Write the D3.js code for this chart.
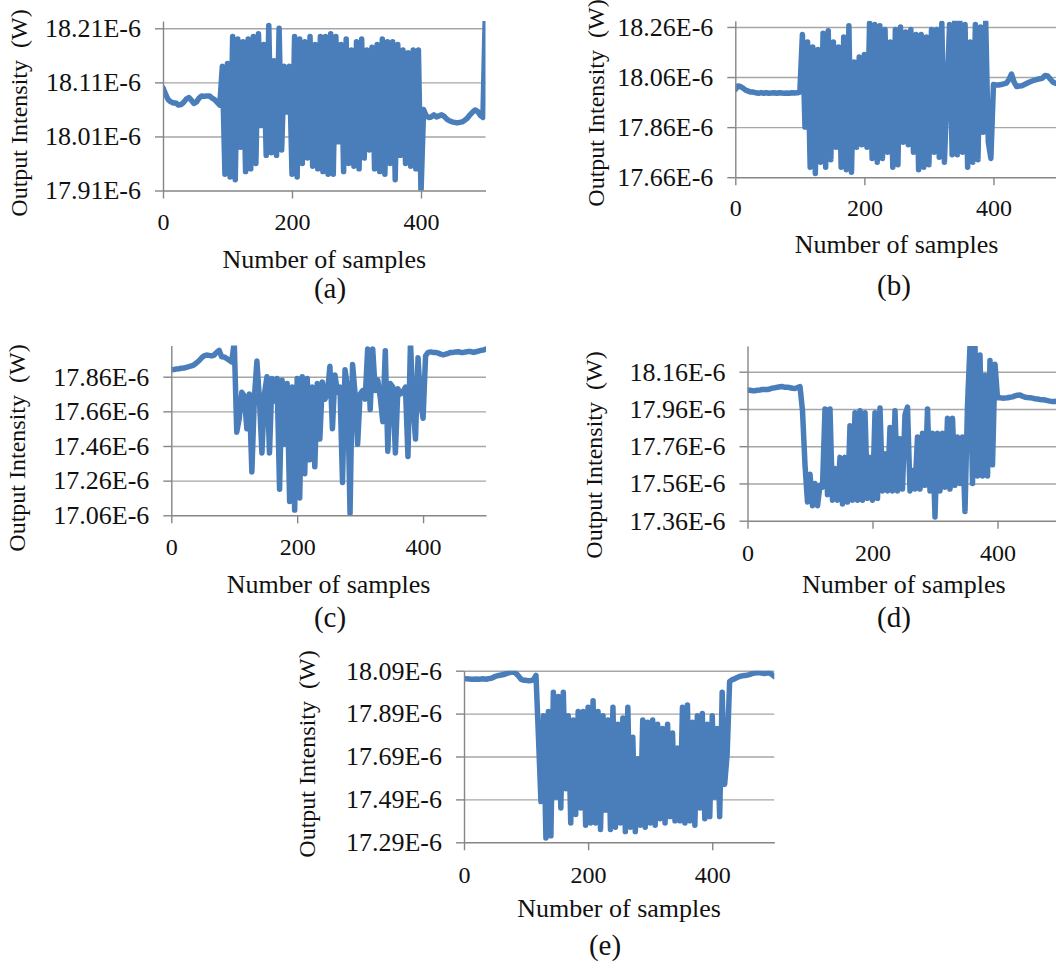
<!DOCTYPE html>
<html>
<head>
<meta charset="utf-8">
<script src="https://cdn.jsdelivr.net/npm/d3@7"></script>
<style>
  body { margin: 0; background: #fff; }
  svg { display: block; }
  svg text { font-family: "Liberation Serif", "Times New Roman", Times, serif; }
</style>
</head>
<body>
<svg id="chart" width="1056" height="971"></svg>
<script>
// ---------------- DATA ----------------
const sampleNumbers = [
  0,4,8,12,16,20,24,28,32,36,
  40,44,48,52,56,60,64,68,72,76,
  80,84,88,92,96,100,104,108,112,116,
  120,124,128,132,136,140,144,148,152,156,
  160,164,168,172,176,180,184,188,192,196,
  200,204,208,212,216,220,224,228,232,236,
  240,244,248,252,256,260,264,268,272,276,
  280,284,288,292,296,300,304,308,312,316,
  320,324,328,332,336,340,344,348,352,356,
  360,364,368,372,376,380,384,388,392,396,
  400,404,408,412,416,420,424,428,432,436,
  440,444,448,452,456,460,464,468,472,476,
  480,484,488,492,496,500];

const xTickValues = [0, 200, 400];
const xTickLabels = ["0", "200", "400"];
const panelLabels = ["(a)", "(b)", "(c)", "(d)", "(e)"];
const xAxisTitle = "Number of samples";
const yAxisTitle = "Output Intensity  (W)";

// y tick values (units of 1E-6 W)
const yTicksA = [17.91, 18.01, 18.11, 18.21];
const yTicksB = [17.66, 17.86, 18.06, 18.26];
const yTicksC = [17.06, 17.26, 17.46, 17.66, 17.86];
const yTicksD = [17.36, 17.56, 17.76, 17.96, 18.16];
const yTicksE = [17.29, 17.49, 17.69, 17.89, 18.09];

// output intensity (x 1E-6 W) at each entry of sampleNumbers
const intensityA = [
  18.100,18.088,18.078,18.074,18.072,18.072,18.068,18.069,18.073,18.079,
  18.082,18.077,18.071,18.074,18.081,18.085,18.084,18.085,18.085,18.081,
  18.078,18.073,18.068,18.140,17.940,18.145,17.935,18.195,17.930,18.190,
  17.990,18.185,17.945,18.190,17.950,18.195,17.960,18.200,18.030,18.180,
  17.975,18.215,17.980,18.150,17.975,18.210,17.985,18.140,18.055,18.140,
  17.940,18.195,17.935,18.190,17.960,18.185,17.970,18.195,17.955,18.180,
  17.950,18.195,17.945,18.195,17.940,18.200,17.940,18.195,18.000,18.180,
  17.945,18.190,17.960,18.170,17.955,18.185,17.950,18.190,17.970,18.170,
  17.985,18.175,17.950,18.180,17.945,18.190,17.940,18.185,17.960,18.185,
  17.930,18.180,17.975,18.170,17.960,18.165,17.955,18.170,17.950,18.170,
  17.905,18.060,18.048,18.045,18.046,18.050,18.046,18.048,18.050,18.047,
  18.042,18.039,18.037,18.036,18.035,18.036,18.037,18.040,18.044,18.050,
  18.055,18.059,18.056,18.049,18.045,18.250];

const intensityB = [
  18.010,18.024,18.022,18.016,18.008,18.004,18.000,18.000,17.997,17.995,
  17.998,17.995,17.997,17.995,17.996,17.997,17.995,17.997,17.996,17.995,
  17.996,17.995,17.997,17.996,17.997,18.000,18.230,17.860,18.200,17.700,
  18.180,17.675,18.170,17.720,18.235,17.700,18.245,17.730,18.200,17.780,
  18.180,17.700,18.220,17.690,18.265,17.680,18.120,17.780,18.140,17.790,
  18.150,17.780,18.275,17.735,18.270,17.720,18.265,17.735,18.250,17.760,
  18.200,17.700,18.250,17.710,18.260,17.800,18.240,17.790,18.250,17.760,
  18.230,17.690,18.230,17.700,18.220,17.710,18.250,17.760,18.250,17.740,
  18.275,17.720,18.000,18.270,17.750,18.280,17.750,18.280,17.760,18.270,
  17.700,18.200,17.720,18.270,17.730,18.260,17.840,18.280,17.800,17.735,
  18.030,18.028,18.028,18.030,18.033,18.036,18.050,18.072,18.040,18.022,
  18.024,18.025,18.030,18.035,18.040,18.044,18.048,18.051,18.053,18.056,
  18.066,18.064,18.052,18.040,18.035,18.035];

const intensityC = [
  17.900,17.901,17.904,17.906,17.909,17.910,17.914,17.918,17.922,17.928,
  17.940,17.952,17.968,17.980,17.985,17.983,17.980,17.985,18.000,18.012,
  17.975,17.974,17.965,17.955,17.945,18.060,17.540,17.620,17.770,17.750,
  17.560,17.760,17.310,17.740,17.950,17.730,17.420,17.760,17.860,17.420,
  17.850,17.720,17.850,17.210,17.840,17.470,17.820,17.140,17.800,17.090,
  17.850,17.160,17.860,17.300,17.850,17.380,17.800,17.340,17.820,17.500,
  17.830,17.730,17.760,17.920,17.560,17.870,17.770,17.800,17.250,17.900,
  17.800,17.070,17.930,17.760,17.470,17.760,17.780,17.730,18.020,17.670,
  18.020,17.780,17.840,17.740,17.600,18.010,17.430,17.820,17.800,17.420,
  17.790,17.760,17.770,17.800,17.400,18.060,17.700,17.500,17.970,17.720,
  17.620,17.980,18.000,18.003,18.000,18.000,17.996,17.990,17.986,17.990,
  17.995,18.000,18.000,18.003,18.004,18.000,18.000,18.003,18.005,18.005,
  18.000,18.004,18.008,18.012,18.014,18.020];

const intensityD = [
  18.062,18.060,18.058,18.058,18.061,18.062,18.065,18.064,18.064,18.068,
  18.072,18.074,18.077,18.079,18.080,18.076,18.077,18.074,18.071,18.070,
  18.075,18.080,17.950,17.660,17.460,17.610,17.440,17.560,17.440,17.550,
  17.540,17.960,17.500,17.960,17.470,17.640,17.470,17.700,17.450,17.700,
  17.460,17.870,17.470,17.940,17.470,17.950,17.470,17.940,17.480,17.700,
  17.470,17.940,17.480,17.965,17.520,17.720,17.520,17.860,17.520,17.950,
  17.520,17.800,17.530,17.930,17.970,17.520,17.630,17.530,17.810,17.530,
  17.830,17.550,17.960,17.520,17.830,17.380,17.830,17.520,17.830,17.540,
  17.910,17.530,17.910,17.550,17.810,17.560,17.810,17.410,17.980,18.300,
  17.560,18.300,17.600,18.250,17.600,18.140,17.600,18.220,17.660,18.200,
  18.020,18.020,18.018,18.019,18.020,18.023,18.025,18.030,18.034,18.035,
  18.028,18.023,18.021,18.020,18.018,18.015,18.013,18.011,18.010,18.008,
  18.005,18.002,18.000,18.000,18.002,18.000];

const intensityE = [
  18.054,18.052,18.051,18.050,18.050,18.051,18.050,18.051,18.052,18.050,
  18.053,18.055,18.060,18.065,18.068,18.070,18.072,18.076,18.080,18.083,
  18.084,18.077,18.065,18.050,18.046,18.045,18.043,18.044,18.048,18.068,
  17.780,17.480,17.880,17.310,17.900,17.320,17.990,17.500,17.970,17.450,
  17.990,17.540,17.880,17.380,17.860,17.420,17.900,17.450,17.900,17.370,
  17.920,17.380,17.950,17.380,17.900,17.350,17.880,17.440,17.860,17.350,
  17.920,17.360,17.840,17.380,17.870,17.340,17.920,17.360,17.780,17.340,
  17.680,17.370,17.860,17.360,17.850,17.380,17.860,17.370,17.840,17.400,
  17.820,17.380,17.840,17.410,17.800,17.390,17.730,17.390,17.920,17.380,
  17.930,17.390,17.850,17.370,17.880,17.450,17.890,17.400,17.840,17.410,
  17.880,17.500,17.820,17.410,17.990,17.560,17.700,18.040,18.048,18.052,
  18.058,18.063,18.066,18.068,18.069,18.072,18.076,18.079,18.080,18.080,
  18.079,18.077,18.079,18.080,18.073,18.063];

// ---------------- LAYOUT ----------------
const layouts = [
  {left:163,   right:485.5, top:21,    bottom:190.5, yMin:17.91, yMax:18.2235, yTitleX:27,  yTitleY:113, xTickY:230,   xTitleY:268, capX:330, capY:298},
  {left:735.3, right:1058,  top:20.7,  bottom:177.2, yMin:17.66, yMax:18.285,  yTitleX:604, yTitleY:103, xTickY:216.5, xTitleY:253, capX:894, capY:295},
  {left:171.3, right:486,   top:345.5, bottom:515.3, yMin:17.06, yMax:18.04,   yTitleX:25,  yTitleY:448, xTickY:555,   xTitleY:593, capX:330, capY:627},
  {left:747.5, right:1060,  top:346,   bottom:520.7, yMin:17.36, yMax:18.298,  yTitleX:602, yTitleY:455, xTickY:561.5, xTitleY:593, capX:894, capY:627},
  {left:464,   right:774.3, top:670.7, bottom:842.3, yMin:17.29, yMax:18.09,   yTitleX:315, yTitleY:754, xTickY:883,   xTitleY:917, capX:605, capY:955}
];

const panels = [
  {values:intensityA, ticks:yTicksA},
  {values:intensityB, ticks:yTicksB},
  {values:intensityC, ticks:yTicksC},
  {values:intensityD, ticks:yTicksD},
  {values:intensityE, ticks:yTicksE}
];

const FONT = '"Liberation Serif", "Times New Roman", Times, serif';
const TEXT = "#111";
const LINE = "#4a7ebb";
const GRID = "#a6a6a6";
const AXIS = "#868686";

const svg = d3.select("#chart");
const fmt = d3.format(".2f");

panels.forEach((p, i) => {
  const L = layouts[i];
  const x = d3.scaleLinear().domain([0, 500]).range([L.left, L.right]);
  const y = d3.scaleLinear().domain([L.yMin, L.yMax]).range([L.bottom, L.top]);
  const g = svg.append("g");

  // gridlines
  g.append("g")
    .attr("transform", `translate(${L.left},0)`)
    .call(d3.axisLeft(y).tickValues(p.ticks.slice(1)).tickSize(-(L.right - L.left)).tickFormat(""))
    .call(a => a.select(".domain").remove())
    .call(a => a.selectAll("line").attr("stroke", GRID).attr("stroke-width", 1.4));

  // clip to plot area
  const cid = "clip" + i;
  svg.append("clipPath").attr("id", cid)
    .append("rect")
    .attr("x", L.left).attr("y", L.top)
    .attr("width", L.right - L.left).attr("height", L.bottom - L.top);

  // series line
  const pts = sampleNumbers.map((n, k) => [n, p.values[k]]);
  g.append("path")
    .datum(pts)
    .attr("clip-path", `url(#${cid})`)
    .attr("fill", "none")
    .attr("stroke", LINE)
    .attr("stroke-width", 5.5)
    .attr("stroke-linejoin", "round")
    .attr("stroke-linecap", "round")
    .attr("d", d3.line().x(d => x(d[0])).y(d => y(d[1])));

  // y axis
  const ya = g.append("g")
    .attr("transform", `translate(${L.left},0)`)
    .call(d3.axisLeft(y).tickValues(p.ticks).tickSize(8).tickSizeOuter(0).tickPadding(14)
      .tickFormat(v => fmt(v) + "E-6"));
  ya.attr("color", AXIS).attr("font-family", null).attr("font-size", null);
  ya.selectAll("line, path").attr("stroke-width", 1.4);
  ya.selectAll("text")
    .attr("fill", TEXT)
    .style("font-family", FONT).style("font-size", "26px");

  // x axis
  const xa = g.append("g")
    .attr("transform", `translate(0,${L.bottom})`)
    .call(d3.axisBottom(x).tickValues(xTickValues).tickSize(8).tickSizeOuter(0)
      .tickFormat((v, k) => xTickLabels[k]));
  xa.attr("color", AXIS).attr("font-family", null).attr("font-size", null);
  xa.selectAll("line, path").attr("stroke-width", 1.4);
  xa.selectAll("text")
    .attr("fill", TEXT).attr("y", L.xTickY - L.bottom).attr("dy", null)
    .style("font-family", FONT).style("font-size", "24px");

  // y axis title
  g.append("text")
    .attr("transform", `translate(${L.yTitleX},${L.yTitleY}) rotate(-90)`)
    .attr("text-anchor", "middle")
    .attr("fill", TEXT)
    .style("font-family", FONT).style("font-size", "24px")
    .style("white-space", "pre")
    .text(yAxisTitle);

  // x axis title
  g.append("text")
    .attr("x", (L.left + L.right) / 2).attr("y", L.xTitleY)
    .attr("text-anchor", "middle")
    .attr("fill", TEXT)
    .style("font-family", FONT).style("font-size", "26px")
    .text(xAxisTitle);

  // panel caption
  g.append("text")
    .attr("x", L.capX).attr("y", L.capY)
    .attr("text-anchor", "middle")
    .attr("fill", TEXT)
    .style("font-family", FONT).style("font-size", "29px")
    .text(panelLabels[i]);
});
</script>
</body>
</html>
